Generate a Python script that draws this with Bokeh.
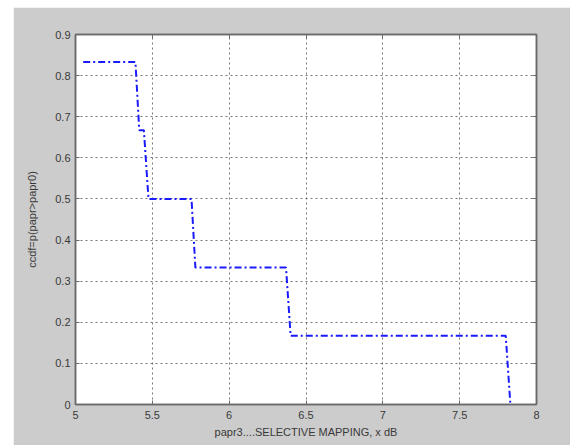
from bokeh.plotting import figure
from bokeh.models import Range1d, FixedTicker, LinearAxis, Spacer, CustomJSTickFormatter
from bokeh.layouts import row, column
from bokeh.embed import file_html
from bokeh.resources import INLINE

x_db = [5.05, 5.39, 5.415, 5.445, 5.475, 5.755, 5.78, 6.37, 6.40, 7.80, 7.83]
ccdf = [0.833, 0.833, 0.667, 0.667, 0.5, 0.5, 0.333, 0.333, 0.167, 0.167, 0.0]

x_ticks = [5, 5.5, 6, 6.5, 7, 7.5, 8]
y_ticks = [0, 0.1, 0.2, 0.3, 0.4, 0.5, 0.6, 0.7, 0.8, 0.9]

x_label = "papr3....SELECTIVE MAPPING, x dB"
y_label = "ccdf=p(papr>papr0)"

FONT = "Liberation Sans"
TXT = "#3a3a3a"
FRAME = "#6a6a6a"

p = figure(width=557, height=438,
           x_range=Range1d(5, 8), y_range=Range1d(0, 0.9),
           output_backend="svg", toolbar_location=None,
           background_fill_color="white", border_fill_color="#cccccc",
           min_border_left=62, min_border_right=34,
           min_border_top=27, min_border_bottom=41)

p.outline_line_color = FRAME
p.outline_line_width = 1.5

p.xaxis.ticker = FixedTicker(ticks=x_ticks)
p.yaxis.ticker = FixedTicker(ticks=y_ticks)

for ax in (p.xaxis, p.yaxis):
    ax.axis_line_color = FRAME
    ax.axis_line_width = 1.5
    ax.major_tick_in = 4
    ax.major_tick_out = 0
    ax.minor_tick_line_color = None
    ax.major_tick_line_color = FRAME
    ax.major_label_text_font = FONT
    ax.major_label_text_font_size = "11px"
    ax.major_label_text_color = TXT
    ax.axis_label_text_font = FONT
    ax.axis_label_text_font_size = "11px"
    ax.axis_label_text_font_style = "normal"
    ax.axis_label_text_color = TXT

p.xaxis.axis_label = x_label
p.yaxis.axis_label = y_label
p.xaxis.major_label_standoff = 6
p.xaxis.axis_label_standoff = 4
p.yaxis.major_label_standoff = 5
p.yaxis.axis_label_standoff = 14

blank = CustomJSTickFormatter(code="return '';")
for loc in ("above", "right"):
    ax = LinearAxis(ticker=FixedTicker(ticks=x_ticks if loc == "above" else y_ticks),
                    formatter=blank)
    ax.axis_line_color = FRAME
    ax.axis_line_width = 1.5
    ax.major_tick_in = 4
    ax.major_tick_out = 0
    ax.minor_tick_line_color = None
    ax.major_tick_line_color = FRAME
    ax.major_label_standoff = 0
    p.add_layout(ax, loc)

p.xgrid.ticker = FixedTicker(ticks=x_ticks)
p.ygrid.ticker = FixedTicker(ticks=y_ticks)
for g in (p.xgrid, p.ygrid):
    g.grid_line_color = "#555555"
    g.grid_line_dash = "2 3"
    g.grid_line_width = 1
    g.grid_line_alpha = 0.8

p.line(x_db, ccdf, line_color="#1a1aff", line_width=2, line_dash="7 3 2 3")

layout = column(Spacer(width=570, height=7), row(Spacer(width=13, height=438), p))

open("out.html", "w").write(file_html(layout, INLINE))
